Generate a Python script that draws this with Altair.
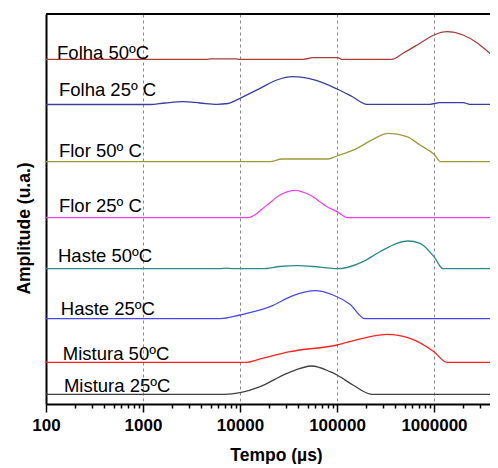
import altair as alt
import pandas as pd

# ---------------- data ----------------
series_names = ["Folha 50ºC", "Folha 25º C", "Flor 50º C", "Flor 25º C",
                "Haste 50ºC", "Haste 25ºC", "Mistura 50ºC", "Mistura 25ºC"]
series_colors = ["#A83E3E", "#3C3CA0", "#9C9C3C", "#F040F0",
                 "#2A8A8A", "#4848F0", "#FF2020", "#404040"]

folha50_t = [100, 4500, 5000, 9000, 10000, 45000, 56600, 102000, 112000, 366000,
             479000, 718000, 1000000, 1360000, 1990000, 2770000, 3600000, 4460000]
folha50_a = [344.7, 344.7, 345.2, 345.2, 344.7, 344.7, 346.3, 346.3, 344.7, 344.7,
             350.7, 360.7, 369, 372.3, 369, 361.3, 352.3, 344.7]

folha25_t = [100, 1180, 1690, 2580, 3870, 5790, 7520, 10000, 16100, 24000, 35200,
             62200, 100000, 143000, 204000, 910000, 1150000, 1990000, 2350000, 4460000]
folha25_a = [299.5, 299.5, 301, 302.3, 301, 299.7, 300.5, 305.7, 315.7, 324, 327.3,
             323.3, 315, 307.5, 299.7, 299.7, 301.3, 301.3, 299.7, 299.7]

flor50_t = [100, 20400, 27100, 80700, 100000, 161000, 235000, 336000, 527000,
            718000, 1000000, 1180000, 4460000]
flor50_a = [242.3, 242.3, 245, 245, 248, 255.7, 264.7, 270.7, 267.3,
            259, 249.7, 242.3, 242.3]

flor25_t = [100, 12100, 19000, 25800, 36900, 52700, 78900, 100000, 130000, 4460000]
flor25_a = [186.3, 186.3, 199, 209, 213.7, 209, 197.3, 192.3, 186.3, 186.3]

haste50_t = [100, 6220, 7180, 8280, 16900, 25800, 38700, 56600, 84700, 100000,
             127000, 185000, 277000, 416000, 539000, 718000, 1000000, 1240000, 4460000]
haste50_a = [135.3, 135.3, 135.8, 135.3, 135.3, 137.5, 138.3, 137.5, 135.8, 135.3,
             136.5, 142.3, 152.3, 160.7, 163, 160.7, 147.3, 135.3, 135.3]

haste25_t = [100, 6220, 10000, 20400, 35200, 59300, 91000, 136000, 195000, 4460000]
haste25_a = [85.3, 85.3, 89, 97.3, 108.3, 113.3, 109, 99.7, 85.3, 85.3]

mistura50_t = [100, 11700, 15000, 32700, 100000, 185000, 327000, 566000,
               1000000, 1360000, 4460000]
mistura50_a = [41.7, 41.7, 44.2, 52.3, 59, 65.7, 69.7, 65.7,
               52.3, 41.7, 41.7]

mistura25_t = [100, 7000, 10000, 16100, 30600, 55200, 84700, 100000, 146000, 229000, 4460000]
mistura25_a = [9.7, 9.7, 11.3, 17.3, 30.7, 38, 32.3, 29, 19, 9.7, 9.7]

label_t = [130, 136, 136, 136, 133, 142, 149, 153]
label_a = [345.5, 308, 247.3, 192, 141.7, 88.7, 44, 12]

major_ticks = [100, 1000, 10000, 100000, 1000000]
grid_ticks = [1000, 10000, 100000, 1000000]
x_domain = [100, 3780000]
y_domain = [0, 390]
top_frame = [390]

# ---------------- build tables ----------------
all_t = [folha50_t, folha25_t, flor50_t, flor25_t, haste50_t, haste25_t, mistura50_t, mistura25_t]
all_a = [folha50_a, folha25_a, flor50_a, flor25_a, haste50_a, haste25_a, mistura50_a, mistura25_a]
rows = []
for name, ts, amps in zip(series_names, all_t, all_a):
    for t, a in zip(ts, amps):
        rows.append({"serie": name, "t": t, "amp": a})
df = pd.DataFrame(rows)
labels_df = pd.DataFrame({"serie": series_names, "t": label_t, "amp": label_a})
top_df = pd.DataFrame({"amp": top_frame})

tick_values = [m * 10 ** e for e in range(2, 7) for m in range(1, 10) if m * 10 ** e <= x_domain[1]]
major_test = f"indexof({major_ticks}, datum.value) >= 0"
grid_test = f"indexof({grid_ticks}, datum.value) >= 0"

x_scale = alt.Scale(type="log", domain=x_domain, nice=False)
y_scale = alt.Scale(domain=y_domain, nice=False, zero=False)

x_axis = alt.Axis(
    title="Tempo (µs)", values=tick_values, format="d",
    labelExpr=f"{major_test} ? datum.label : ''",
    labelOverlap=False, labelFlush=False,
    labelFont="Liberation Sans", labelFontSize=17, labelFontWeight="bold", labelColor="black",
    labelPadding=5,
    tickColor="black", tickWidth=1.5,
    tickSize={"condition": {"test": major_test, "value": 8}, "value": 4},
    grid=True, gridColor="#888888", gridWidth=1, gridDash=[3, 3],
    gridOpacity={"condition": {"test": grid_test, "value": 1}, "value": 0},
    domainColor="black", domainWidth=2,
    titleFont="Liberation Sans", titleFontSize=17.5, titleFontWeight="bold", titleColor="black",
    titleX=230, titleY=56, titleBaseline="alphabetic", titleAlign="center",
)
y_axis = alt.Axis(
    title="Amplitude (u.a.)", labels=False, ticks=False, grid=False,
    domainColor="black", domainWidth=2,
    titleFont="Liberation Sans", titleFontSize=17.5, titleFontWeight="bold", titleColor="black",
    titleAngle=270, titleX=-13, titleY=214, titleBaseline="bottom", titleAlign="center",
)

lines = alt.Chart(df).mark_line(interpolate="monotone", strokeWidth=1.3, clip=True).encode(
    x=alt.X("t:Q", scale=x_scale, axis=x_axis),
    y=alt.Y("amp:Q", scale=y_scale, axis=y_axis),
    color=alt.Color("serie:N", scale=alt.Scale(domain=series_names, range=series_colors), legend=None),
    detail="serie:N",
)

texts = alt.Chart(labels_df).mark_text(
    align="left", baseline="alphabetic", font="Liberation Sans", fontSize=18.5, color="black"
).encode(
    x=alt.X("t:Q", scale=x_scale),
    y=alt.Y("amp:Q", scale=y_scale),
    text="serie:N",
)

top_rule = alt.Chart(top_df).mark_rule(color="black", strokeWidth=2).encode(
    y=alt.Y("amp:Q", scale=y_scale),
)

chart = alt.layer(lines, texts, top_rule).properties(
    width=444, height=390,
    autosize=alt.AutoSizeParams(type="none"),
    padding={"left": 38, "top": 6, "right": 0, "bottom": 60},
    background="white",
).configure_view(stroke=None)

chart.save("out.html", embed_options={"renderer": "svg", "actions": False})
